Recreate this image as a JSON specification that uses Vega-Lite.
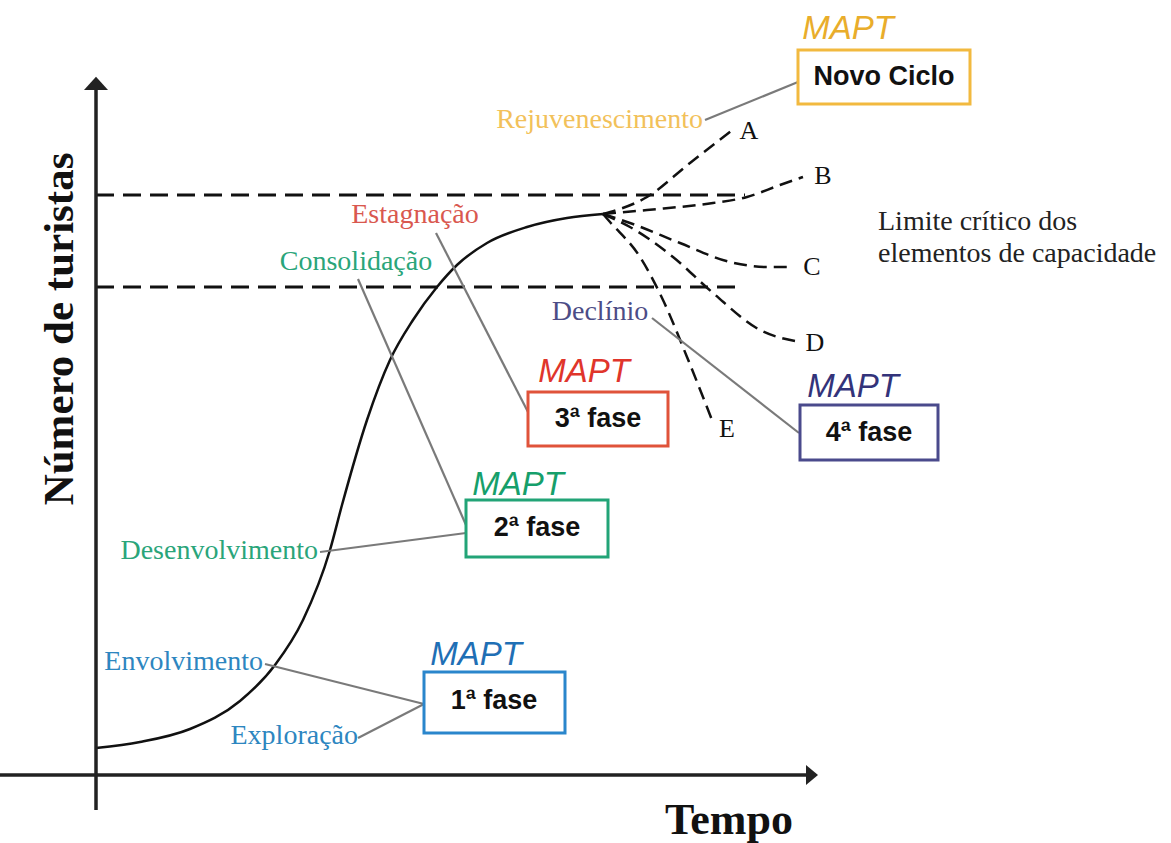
{
  "$schema": "https://vega.github.io/schema/vega-lite/v6.json",
  "width": 1171,
  "height": 843,
  "padding": 0,
  "autosize": {"type": "none"},
  "background": "white",
  "config": {"view": {"stroke": null}},
  "datasets": {
    "curve": [
      {"t": 96, "n": 95}, {"t": 140, "n": 101}, {"t": 190, "n": 114}, {"t": 240, "n": 142},
      {"t": 275, "n": 178}, {"t": 303, "n": 223}, {"t": 330, "n": 293}, {"t": 342, "n": 338},
      {"t": 367, "n": 423}, {"t": 390, "n": 483}, {"t": 413, "n": 523}, {"t": 437, "n": 556},
      {"t": 457, "n": 578}, {"t": 487, "n": 600}, {"t": 527, "n": 616}, {"t": 567, "n": 625},
      {"t": 603, "n": 629}
    ],
    "branches": [
      {"branch": "A", "t": 603, "n": 629}, {"branch": "A", "t": 647, "n": 646}, {"branch": "A", "t": 690, "n": 680}, {"branch": "A", "t": 735, "n": 715},
      {"branch": "B", "t": 603, "n": 629}, {"branch": "B", "t": 647, "n": 633}, {"branch": "B", "t": 713, "n": 640}, {"branch": "B", "t": 747, "n": 646}, {"branch": "B", "t": 780, "n": 658}, {"branch": "B", "t": 803, "n": 666},
      {"branch": "C", "t": 603, "n": 629}, {"branch": "C", "t": 630, "n": 620}, {"branch": "C", "t": 680, "n": 600}, {"branch": "C", "t": 730, "n": 581}, {"branch": "C", "t": 767, "n": 576}, {"branch": "C", "t": 792, "n": 576},
      {"branch": "D", "t": 603, "n": 629}, {"branch": "D", "t": 630, "n": 616}, {"branch": "D", "t": 673, "n": 586}, {"branch": "D", "t": 713, "n": 550}, {"branch": "D", "t": 760, "n": 513}, {"branch": "D", "t": 800, "n": 501},
      {"branch": "E", "t": 603, "n": 629}, {"branch": "E", "t": 610, "n": 621}, {"branch": "E", "t": 640, "n": 586}, {"branch": "E", "t": 663, "n": 543}, {"branch": "E", "t": 687, "n": 486}, {"branch": "E", "t": 712, "n": 423}
    ],
    "limits": [
      {"limit": "upper", "t": 96, "n": 648}, {"limit": "upper", "t": 745, "n": 648},
      {"limit": "lower", "t": 96, "n": 556}, {"limit": "lower", "t": 742, "n": 556}
    ],
    "leaders": [
      {"leader": "rej", "t": 705, "n": 723}, {"leader": "rej", "t": 798, "n": 761},
      {"leader": "est", "t": 436, "n": 610}, {"leader": "est", "t": 528, "n": 431},
      {"leader": "con", "t": 358, "n": 564}, {"leader": "con", "t": 466, "n": 318},
      {"leader": "dec", "t": 652, "n": 525}, {"leader": "dec", "t": 799, "n": 410},
      {"leader": "des", "t": 320, "n": 291}, {"leader": "des", "t": 466, "n": 310},
      {"leader": "env", "t": 265, "n": 179}, {"leader": "env", "t": 424, "n": 139},
      {"leader": "exp", "t": 358, "n": 105}, {"leader": "exp", "t": 424, "n": 139}
    ],
    "axes": [
      {"axis": "y", "t": 96, "n": 33}, {"axis": "y", "t": 96, "n": 755},
      {"axis": "x", "t": 0, "n": 68}, {"axis": "x", "t": 808, "n": 68}
    ],
    "arrows": [
      {"axis": "y", "t": 96, "n": 759},
      {"axis": "x", "t": 812, "n": 68}
    ],
    "boxes": [
      {"stage": "Novo Ciclo", "t": 798, "t2": 970, "n": 793, "n2": 739, "tc": 884, "nc": 766},
      {"stage": "3ª fase", "t": 528, "t2": 668, "n": 451, "n2": 397, "tc": 598, "nc": 424},
      {"stage": "4ª fase", "t": 800, "t2": 938, "n": 438, "n2": 383, "tc": 869, "nc": 410},
      {"stage": "2ª fase", "t": 466, "t2": 608, "n": 343, "n2": 286, "tc": 537, "nc": 315},
      {"stage": "1ª fase", "t": 424, "t2": 565, "n": 171, "n2": 110, "tc": 494, "nc": 142}
    ],
    "mapt": [
      {"stage": "Novo Ciclo", "t": 848, "n": 814},
      {"stage": "3ª fase", "t": 584, "n": 471},
      {"stage": "4ª fase", "t": 853, "n": 456},
      {"stage": "2ª fase", "t": 518, "n": 358},
      {"stage": "1ª fase", "t": 476, "n": 188}
    ],
    "stageLabels": [
      {"label": "Rejuvenescimento", "stage": "Novo Ciclo", "t": 703, "n": 723, "anchor": "right"},
      {"label": "Estagnação", "stage": "3ª fase", "t": 415, "n": 628, "anchor": "center"},
      {"label": "Consolidação", "stage": "2ª fase", "t": 356, "n": 581, "anchor": "center"},
      {"label": "Declínio", "stage": "4ª fase", "t": 600, "n": 531, "anchor": "center"},
      {"label": "Desenvolvimento", "stage": "2ª fase", "t": 318, "n": 292, "anchor": "right"},
      {"label": "Envolvimento", "stage": "1ª fase", "t": 263, "n": 181, "anchor": "right"},
      {"label": "Exploração", "stage": "1ª fase", "t": 358, "n": 107, "anchor": "right"}
    ],
    "branchLabels": [
      {"label": "A", "t": 749, "n": 712},
      {"label": "B", "t": 823, "n": 667},
      {"label": "C", "t": 812, "n": 576},
      {"label": "D", "t": 815, "n": 500},
      {"label": "E", "t": 727, "n": 414}
    ],
    "notes": [
      {"label": "Limite crítico dos", "t": 878, "n": 621},
      {"label": "elementos de capacidade", "t": 878, "n": 589}
    ],
    "titles": [
      {"label": "Número de turistas", "t": 60, "n": 514, "angle": 270},
      {"label": "Tempo", "t": 729, "n": 22, "angle": 0}
    ]
  },
  "encoding": {
    "x": {"field": "t", "type": "quantitative", "scale": {"domain": [0, 1171], "nice": false, "zero": false}, "axis": null},
    "y": {"field": "n", "type": "quantitative", "scale": {"domain": [0, 843], "nice": false, "zero": false}, "axis": null}
  },
  "layer": [
    {
      "data": {"name": "limits"},
      "mark": {"type": "line", "color": "#111111", "strokeWidth": 3, "strokeDash": [18, 9]},
      "encoding": {"detail": {"field": "limit"}}
    },
    {
      "data": {"name": "branches"},
      "mark": {"type": "line", "color": "#111111", "strokeWidth": 2.5, "strokeDash": [13, 7], "interpolate": "monotone"},
      "encoding": {"detail": {"field": "branch"}}
    },
    {
      "data": {"name": "curve"},
      "mark": {"type": "line", "color": "#111111", "strokeWidth": 2.5, "interpolate": "monotone"},
      "encoding": {}
    },
    {
      "data": {"name": "leaders"},
      "mark": {"type": "line", "color": "#7a7a7a", "strokeWidth": 2.2},
      "encoding": {"detail": {"field": "leader"}}
    },
    {
      "data": {"name": "axes"},
      "mark": {"type": "line", "color": "#222222", "strokeWidth": 3.5},
      "encoding": {"detail": {"field": "axis"}}
    },
    {
      "data": {"name": "arrows"},
      "transform": [{"filter": "datum.axis === 'y'"}],
      "mark": {"type": "point", "shape": "M-1,0.5L1,0.5L0,-0.6Z", "size": 576, "filled": true, "color": "#222222", "opacity": 1}
    },
    {
      "data": {"name": "arrows"},
      "transform": [{"filter": "datum.axis === 'x'"}],
      "mark": {"type": "point", "shape": "M-0.6,-1L0.6,0L-0.6,1Z", "size": 400, "filled": true, "color": "#222222", "opacity": 1}
    },
    {
      "data": {"name": "boxes"},
      "mark": {"type": "rect", "fill": "white", "strokeWidth": 3},
      "encoding": {
        "x2": {"field": "t2"},
        "y2": {"field": "n2"},
        "stroke": {"field": "stage", "type": "nominal", "legend": null,
          "scale": {"domain": ["Novo Ciclo", "1ª fase", "2ª fase", "3ª fase", "4ª fase"], "range": ["#f2b93f", "#2a86cc", "#22a477", "#e0533a", "#4a4a8c"]}}
      }
    },
    {
      "data": {"name": "boxes"},
      "mark": {"type": "text", "font": "Liberation Sans", "fontWeight": "bold", "fontSize": 27, "color": "#111111", "align": "center", "baseline": "middle"},
      "encoding": {
        "x": {"field": "tc", "type": "quantitative"},
        "y": {"field": "nc", "type": "quantitative"},
        "text": {"field": "stage"}
      }
    },
    {
      "data": {"name": "mapt"},
      "mark": {"type": "text", "font": "Liberation Sans", "fontStyle": "italic", "fontSize": 33, "align": "center", "baseline": "middle", "text": "MAPT"},
      "encoding": {
        "color": {"field": "stage", "type": "nominal", "legend": null,
          "scale": {"domain": ["Novo Ciclo", "1ª fase", "2ª fase", "3ª fase", "4ª fase"], "range": ["#e9ad2b", "#1f6fb5", "#169f6b", "#e0352b", "#33337a"]}}
      }
    },
    {
      "data": {"name": "stageLabels"},
      "transform": [{"filter": "datum.anchor === 'right'"}],
      "mark": {"type": "text", "font": "Liberation Serif", "fontSize": 28, "align": "right", "baseline": "middle"},
      "encoding": {
        "text": {"field": "label"},
        "fill": {"field": "stage", "type": "nominal", "legend": null,
          "scale": {"domain": ["Novo Ciclo", "1ª fase", "2ª fase", "3ª fase", "4ª fase"], "range": ["#f2c15a", "#2d86c0", "#2aa57a", "#d9584f", "#4c4c86"]}}
      }
    },
    {
      "data": {"name": "stageLabels"},
      "transform": [{"filter": "datum.anchor === 'center'"}],
      "mark": {"type": "text", "font": "Liberation Serif", "fontSize": 28, "align": "center", "baseline": "middle"},
      "encoding": {
        "text": {"field": "label"},
        "fill": {"field": "stage", "type": "nominal", "legend": null,
          "scale": {"domain": ["Novo Ciclo", "1ª fase", "2ª fase", "3ª fase", "4ª fase"], "range": ["#f2c15a", "#2d86c0", "#2aa57a", "#d9584f", "#4c4c86"]}}
      }
    },
    {
      "data": {"name": "branchLabels"},
      "mark": {"type": "text", "font": "Liberation Serif", "fontSize": 26, "color": "#111111", "align": "center", "baseline": "middle"},
      "encoding": {"text": {"field": "label"}}
    },
    {
      "data": {"name": "notes"},
      "mark": {"type": "text", "font": "Liberation Serif", "fontSize": 28, "color": "#222222", "align": "left", "baseline": "middle"},
      "encoding": {"text": {"field": "label"}}
    },
    {
      "data": {"name": "titles"},
      "transform": [{"filter": "datum.angle === 270"}],
      "mark": {"type": "text", "font": "Liberation Serif", "fontWeight": "bold", "fontSize": 43, "color": "#111111", "align": "center", "baseline": "middle", "angle": 270},
      "encoding": {"text": {"field": "label"}}
    },
    {
      "data": {"name": "titles"},
      "transform": [{"filter": "datum.angle === 0"}],
      "mark": {"type": "text", "font": "Liberation Serif", "fontWeight": "bold", "fontSize": 44, "color": "#111111", "align": "center", "baseline": "middle"},
      "encoding": {"text": {"field": "label"}}
    }
  ]
}
